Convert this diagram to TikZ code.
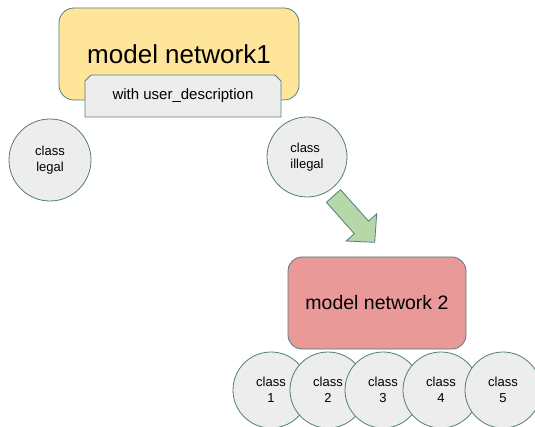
\documentclass[tikz,border=0pt]{standalone}
\usepackage{fontspec}
\setmainfont{Liberation Sans}
\usepackage{tikz}
\usetikzlibrary{positioning}
\usetikzlibrary{shapes,shapes.misc,calc}
\definecolor{edgeteal}{RGB}{84,124,126}
\definecolor{paleyellow}{HTML}{FFE599}
\definecolor{palered}{HTML}{EA9999}
\definecolor{palegreen}{HTML}{B6D7A8}
\definecolor{palegray}{HTML}{EDEDED}
\tikzset{
	semithick,
	model box/.style = {rectangle, rounded corners=14pt, draw=edgeteal, line width=0.8pt,
	  minimum width=178pt, minimum height=92pt, inner sep=0pt},
	tab box/.style = {chamfered rectangle, chamfered rectangle corners={north east,north west},
	  chamfered rectangle xsep=3pt, chamfered rectangle ysep=3pt,
	  draw=edgeteal, line width=0.8pt, fill=palegray,
	  minimum width=196pt, minimum height=42pt, inner sep=0pt,
	  font=\fontsize{15}{18}\selectfont},
	class node/.style = {circle, draw=edgeteal, line width=0.8pt, fill=palegray,
	  minimum size=#1, inner sep=0pt, align=center,
	  font=\fontsize{13}{15.5}\selectfont},
	class node/.default = 76pt,
	big arrow/.style = {draw=edgeteal, line width=0.8pt, fill=palegreen, line join=miter},
}

\begin{document}
\begin{tikzpicture}[x=1pt,y=-1pt]
               \useasboundingbox (0,0) rectangle (535,427);
               \node at(179,54) (Network1) [model box, minimum width=240pt, fill=paleyellow,
                 rounded corners=15pt, font=\fontsize{26}{30}\selectfont] {model network1};
               \node at(183,96) (Description) [tab box] {with user\_description};
               \node at(50,160) (Legal) [class node=82pt] {class\\legal};
               \node at(307,157) (Illegal) [class node=80pt, align=left] {class\\illegal};
               \node at(377,303) (Network2) [model box, fill=palered,
                 font=\fontsize{19.5}{23}\selectfont] {model network 2};
               % green block arrow from the illegal class towards network 2
               \draw[big arrow] (326.4,202.3) -- (340.6,189.7) -- (368.5,221.1) -- (376.7,213.8)
                 -- (374.7,242.3) -- (346.1,241.0) -- (354.3,233.7) -- cycle;
               \foreach \k/\x in {1/271,2/328,3/383,4/441,5/503}
                 \node at(\x,390) (Class\k) [class node] {class\\\k};
        \end{tikzpicture}
\end{document}
